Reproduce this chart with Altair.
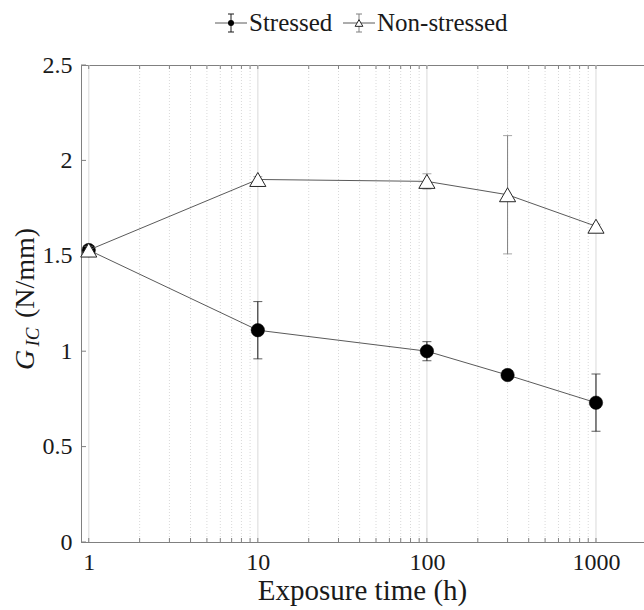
import altair as alt
import pandas as pd

# ---- data ----
hours = [1, 10, 100, 300, 1000]
stressed_mean = [1.53, 1.11, 1.00, 0.875, 0.73]
stressed_err = [0.02, 0.15, 0.05, 0.015, 0.15]
nonstressed_mean = [1.53, 1.90, 1.89, 1.82, 1.655]
nonstressed_err = [0.02, 0.015, 0.04, 0.31, 0.01]

x_major = [1, 10, 100, 1000]
x_minor = [2, 3, 4, 5, 6, 7, 8, 9, 20, 30, 40, 50, 60, 70, 80, 90,
           200, 300, 400, 500, 600, 700, 800, 900]
y_ticks = [0, 0.5, 1, 1.5, 2, 2.5]

W, H = 563, 477
LEFT, TOP = 81, 65
SERIF = "Liberation Serif"
INK = "#1a1a1a"
AXC = "#808080"

def make_df(mean, err):
    return pd.DataFrame({
        "t": hours,
        "v": mean,
        "lo": [m - e for m, e in zip(mean, err)],
        "hi": [m + e for m, e in zip(mean, err)],
    })

df_s = make_df(stressed_mean, stressed_err)
df_n = make_df(nonstressed_mean, nonstressed_err)
df_major = pd.DataFrame({"t": x_major})
df_minor = pd.DataFrame({"t": x_minor})
df_all_x = pd.DataFrame({"t": x_major + x_minor})
df_y = pd.DataFrame({"v": y_ticks})

xscale = alt.Scale(type="log", domain=[0.9, 1923], nice=False)
yscale = alt.Scale(domain=[0, 2.5], nice=False, zero=False)

xaxis = alt.Axis(values=x_major, format="d", title=None, grid=False,
                 ticks=False, domain=True, domainColor=AXC, domainWidth=1,
                 labelFont=SERIF, labelFontSize=24, labelColor=INK,
                 labelPadding=8)
yaxis = alt.Axis(values=y_ticks, format="~g", title=None, grid=False,
                 ticks=False, domain=True, domainColor=AXC, domainWidth=1,
                 labelFont=SERIF, labelFontSize=24, labelColor=INK,
                 labelPadding=9)

X = lambda f="t": alt.X(f"{f}:Q", scale=xscale, axis=xaxis)
Y = lambda f="v": alt.Y(f"{f}:Q", scale=yscale, axis=yaxis)

# grid lines (vertical only)
grid_minor = alt.Chart(df_minor).mark_rule(
    color="#d9d9d9", strokeWidth=1, strokeDash=[1, 2]
).encode(x=X(), y=alt.value(0), y2=alt.value(H))
grid_major = alt.Chart(df_major).mark_rule(
    color="#e6e6e6", strokeWidth=1.5
).encode(x=X(), y=alt.value(0), y2=alt.value(H))

# inward ticks
ticks_bottom = alt.Chart(df_all_x).mark_rule(color=AXC, strokeWidth=1).encode(
    x=X(), y=alt.value(H), y2=alt.value(H - 4))
ticks_top = alt.Chart(df_all_x).mark_rule(color=AXC, strokeWidth=1).encode(
    x=X(), y=alt.value(0), y2=alt.value(4))
ticks_left = alt.Chart(df_y).mark_rule(color=AXC, strokeWidth=1).encode(
    y=Y(), x=alt.value(0), x2=alt.value(5))

def series(df, err_color, point_mark):
    line = alt.Chart(df).mark_line(color="#5a5a5a", strokeWidth=1).encode(x=X(), y=Y())
    bar = alt.Chart(df).mark_rule(color=err_color, strokeWidth=1).encode(
        x=X(), y=Y("lo"), y2="hi:Q")
    cap_lo = alt.Chart(df).mark_tick(color=err_color, orient="horizontal",
                                     size=9, thickness=1).encode(x=X(), y=Y("lo"))
    cap_hi = alt.Chart(df).mark_tick(color=err_color, orient="horizontal",
                                     size=9, thickness=1).encode(x=X(), y=Y("hi"))
    pts = alt.Chart(df).mark_point(**point_mark).encode(x=X(), y=Y())
    return [line, bar, cap_lo, cap_hi, pts]

s_layers = series(df_s, "#1a1a1a",
                  dict(shape="circle", filled=True, fill="black", stroke="black",
                       strokeWidth=0.5, size=180, opacity=1))
n_layers = series(df_n, "#808080",
                  dict(shape="triangle-up", filled=True, fill="white",
                       stroke="#262626", strokeWidth=1, size=260, opacity=1))

# y-axis title built from pieces: G_IC (N/mm)
def txt(s, x, y, size, italic=False, angle=270, align="center", baseline="alphabetic"):
    kw = dict(font=SERIF, fontSize=size, color=INK, angle=angle,
              align=align, baseline=baseline)
    if italic:
        kw["fontStyle"] = "italic"
    return alt.Chart(pd.DataFrame({"s": [s]})).mark_text(**kw).encode(
        text="s:N", x=alt.value(x), y=alt.value(y))

ytitle = [
    txt("G", 34 - LEFT, 360 - TOP, 28, italic=True),
    txt("IC", 39 - LEFT, 337 - TOP, 19, italic=True),
    txt("(N/mm)", 34 - LEFT, 273 - TOP, 28),
]
xtitle = txt("Exposure time (h)", W / 2, 600 - TOP, 29, angle=0)

# legend (drawn by hand, top centre)
LY = 23 - TOP
def legend_item(x0, label, err_color, point_mark):
    xc = x0 + 16
    return [
        alt.Chart(df_major.head(1)).mark_rule(color="#5a5a5a", strokeWidth=1).encode(
            x=alt.value(x0), x2=alt.value(x0 + 32), y=alt.value(LY)),
        alt.Chart(df_major.head(1)).mark_rule(color=err_color, strokeWidth=1).encode(
            x=alt.value(xc), y=alt.value(LY - 9), y2=alt.value(LY + 9)),
        alt.Chart(df_major.head(1)).mark_rule(color=err_color, strokeWidth=1).encode(
            x=alt.value(xc - 3), x2=alt.value(xc + 3), y=alt.value(LY - 9)),
        alt.Chart(df_major.head(1)).mark_rule(color=err_color, strokeWidth=1).encode(
            x=alt.value(xc - 3), x2=alt.value(xc + 3), y=alt.value(LY + 9)),
        alt.Chart(df_major.head(1)).mark_point(**point_mark).encode(
            x=alt.value(xc), y=alt.value(LY)),
        txt(label, x0 + 34, LY, 25, angle=0, align="left", baseline="middle"),
    ]

legend = (legend_item(215 - LEFT, "Stressed", "#1a1a1a",
                      dict(shape="circle", filled=True, fill="black", size=36, opacity=1))
          + legend_item(343 - LEFT, "Non-stressed", "#808080",
                        dict(shape="triangle-up", filled=True, fill="white",
                             stroke="#262626", strokeWidth=1, size=60, opacity=1)))

chart = alt.layer(
    grid_minor, grid_major, ticks_bottom, ticks_top, ticks_left,
    *s_layers, *n_layers, *ytitle, xtitle, *legend
).properties(
    width=W, height=H,
    autosize=alt.AutoSizeParams(type="none"),
    padding={"left": LEFT, "top": TOP, "right": 0, "bottom": 610 - TOP - H},
    background="white",
).configure(font=SERIF).configure_view(stroke=AXC, strokeWidth=1)

chart.save("out.html", embed_options={"renderer": "svg", "actions": False})
